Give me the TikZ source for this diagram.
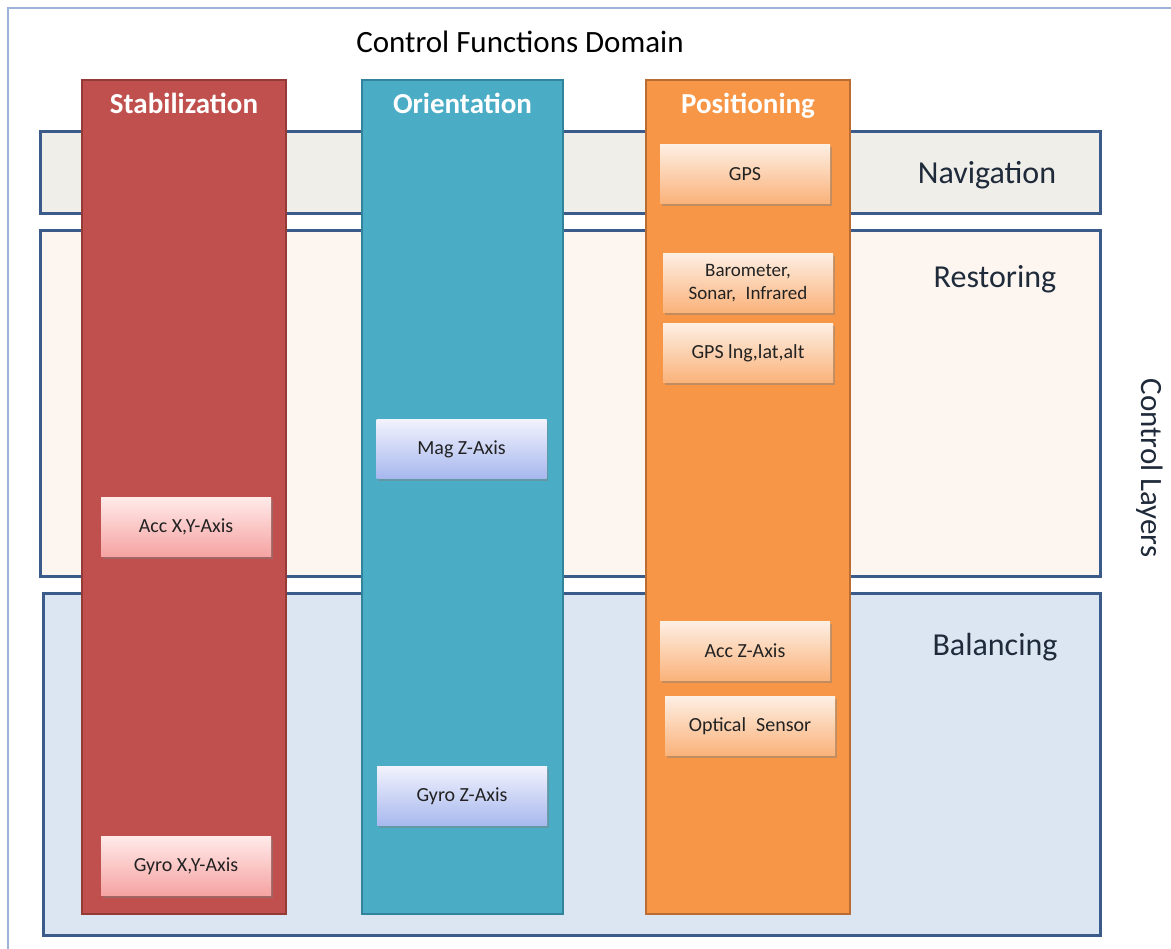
\documentclass[tikz,border=0pt]{standalone}
\usepackage{fontspec}
\setmainfont{Carlito}
\usetikzlibrary{shadows}

\definecolor{frameblue}{HTML}{9DB4DA}
\definecolor{layerline}{HTML}{3B5B8A}
\definecolor{navfill}{HTML}{EFEEE8}
\definecolor{resfill}{HTML}{FDF6F0}
\definecolor{balfill}{HTML}{DCE6F2}
\definecolor{stabfill}{HTML}{C0504D}
\definecolor{stabline}{HTML}{943A37}
\definecolor{orifill}{HTML}{4BACC6}
\definecolor{oriline}{HTML}{31849B}
\definecolor{posfill}{HTML}{F79646}
\definecolor{posline}{HTML}{B96D32}
\definecolor{labelink}{HTML}{1F2A3A}
\definecolor{boxink}{HTML}{222222}
\definecolor{redtop}{HTML}{FFEAE9}
\definecolor{redbot}{HTML}{F5A3A2}
\definecolor{bluetop}{HTML}{F2F3FD}
\definecolor{bluebot}{HTML}{A7B8EE}
\definecolor{orangetop}{HTML}{FDEFE3}
\definecolor{orangebot}{HTML}{FAB27A}

\tikzset{
  layerbox/.style={draw=layerline, line width=3pt, minimum width=1060pt},
  layerlabel/.style={text=labelink, font=\fontsize{32}{36}\selectfont},
  column/.style={line width=2pt, minimum width=204pt, minimum height=834pt},
  coltitle/.style={text=white, font=\bfseries\fontsize{29}{33}\selectfont, anchor=base},
  sensor/.style={minimum width=170pt, minimum height=59pt, align=center,
    text=boxink, font=\fontsize{20}{23}\selectfont,
    drop shadow={shadow xshift=1.5pt, shadow yshift=-2.5pt, opacity=0.45}},
  redsensor/.style={sensor, top color=redtop, bottom color=redbot},
  bluesensor/.style={sensor, top color=bluetop, bottom color=bluebot},
  orangesensor/.style={sensor, top color=orangetop, bottom color=orangebot},
}

\begin{document}
\begin{tikzpicture}[x=1pt, y=-1pt]
\useasboundingbox (0,0) rectangle (1171,949);
\fill[white] (0,0) rectangle (1171,949);

% outer frame of the control functions domain
\coordinate (fbl) at (8,960);
\coordinate (ftl) at (8,8);
\coordinate (ftr) at (1180,8);
\draw[frameblue, line width=2pt] (fbl) -- (ftl) -- (ftr);
\node[font=\fontsize{31}{35}\selectfont] (domain) at (520,42) {Control Functions Domain};

% control layers
\node[layerbox, fill=navfill, minimum height=82pt] (nav) at (570,173) {};
\node[layerbox, fill=resfill, minimum height=345pt] (res) at (570,403.5) {};
\node[layerbox, fill=balfill, minimum width=1057pt, minimum height=342pt] (bal) at (571.5,764) {};

\node[layerlabel] (navlbl) at (987,175) {Navigation};
\node[layerlabel] (reslbl) at (995,279) {Restoring};
\node[layerlabel] (ballbl) at (995,647) {Balancing};
\node[text=labelink, font=\fontsize{31}{35}\selectfont, rotate=-90] (layers) at (1150,468) {Control Layers};

% control function columns
\node[column, draw=stabline, fill=stabfill] (stab) at (184,497) {};
\node[column, draw=oriline, fill=orifill, minimum width=201pt] (ori) at (462.5,497) {};
\node[column, draw=posline, fill=posfill] (pos) at (748,497) {};

\node[coltitle] (stabt) at (184,114) {Stabilization};
\node[coltitle] (orit) at (462.5,114) {Orientation};
\node[coltitle] (post) at (748,114) {Positioning};

% sensors
\node[redsensor] (accxy) at (186,527) {Acc X,Y-Axis};
\node[redsensor] (gyroxy) at (186,866) {Gyro X,Y-Axis};

\node[bluesensor] (mag) at (461.5,449) {Mag Z-Axis};
\node[bluesensor] (gyroz) at (462,796) {Gyro Z-Axis};

\node[orangesensor] (gps) at (745,174) {GPS};
\node[orangesensor, font=\fontsize{19}{23}\selectfont] (baro) at (748,283) {Barometer,\\Sonar,\enspace Infrared};
\node[orangesensor] (gpslng) at (748,353) {GPS lng,lat,alt};
\node[orangesensor] (accz) at (745,651) {Acc Z-Axis};
\node[orangesensor] (optical) at (750,726) {Optical\enspace Sensor};
\end{tikzpicture}
\end{document}
